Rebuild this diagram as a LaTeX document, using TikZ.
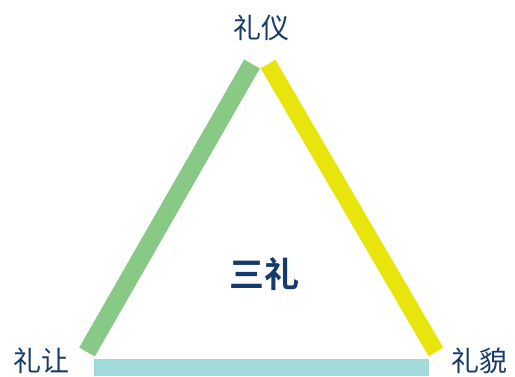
\documentclass[tikz,border=0pt]{standalone}
\usepackage{fontspec}
\newfontfamily\cjk{Noto Sans CJK SC}
\newfontfamily\cjkbold{Noto Sans CJK SC Bold}
\definecolor{barGreen}{HTML}{88CA85}
\definecolor{barYellow}{HTML}{E8E50C}
\definecolor{barCyan}{HTML}{A2D9D9}
\definecolor{txtBlue}{HTML}{163A6A}
\begin{document}
\begin{tikzpicture}[x=1pt,y=-1pt,
  lbl/.style={text=txtBlue,font=\cjk\fontsize{28}{32}\selectfont,inner sep=0pt},
  ctr/.style={text=txtBlue,font=\cjkbold\fontsize{35}{40}\selectfont,inner sep=0pt},
  bar/.style={line width=18pt,line cap=butt}]
\useasboundingbox (0,0) rectangle (515,376);
\coordinate (gTop) at (252,64);
\coordinate (gBot) at (87,352);
\coordinate (yTop) at (268,64);
\coordinate (yBot) at (436,352);
\draw[bar,barGreen] (gBot) -- (gTop);
\draw[bar,barYellow,line width=17pt] (yTop) -- (yBot);
\fill[barCyan] (94,359) rectangle (429,376);
\node[lbl] (top) at (261,28) {礼仪};
\node[lbl] (left) at (41,361) {礼让};
\node[lbl] (right) at (479,361) {礼貌};
\node[ctr] (center) at (264,274) {三礼};
\end{tikzpicture}
\end{document}
